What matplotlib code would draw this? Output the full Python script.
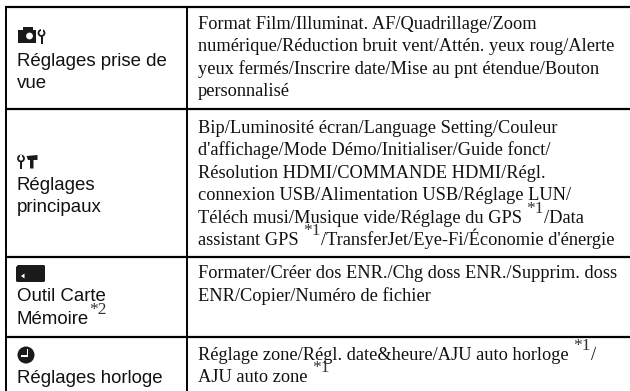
import matplotlib
matplotlib.use("Agg")
import matplotlib.pyplot as plt
from matplotlib.patches import Rectangle, Circle, Polygon, FancyBboxPatch

W, H = 630, 391
SANS = "Liberation Sans"
SERIF = "Liberation Serif"

row_lines = [7, 108.5, 257, 337]
col_lines = [6, 187]

# text rows: (segments, baseline y); a segment starting with ^ is a superscript
left_rows = [
    (["Réglages prise de"], 66),
    (["vue"], 88),
    (["Réglages"], 190),
    (["principaux"], 212),
    (["Outil Carte"], 301),
    (["Mémoire", "^*2"], 324),
    (["Réglages horloge"], 383),
]
right_rows = [
    (["Format Film/Illuminat. AF/Quadrillage/Zoom"], 29),
    (["numérique/Réduction bruit vent/Attén. yeux roug/Alerte"], 51),
    (["yeux fermés/Inscrire date/Mise au pnt étendue/Bouton"], 74),
    (["personnalisé"], 96),
    (["Bip/Luminosité écran/Language Setting/Couleur"], 133),
    (["d'affichage/Mode Démo/Initialiser/Guide fonct/"], 155),
    (["Résolution HDMI/COMMANDE HDMI/Régl."], 178),
    (["connexion USB/Alimentation USB/Réglage LUN/"], 200),
    (["Téléch musi/Musique vide/Réglage du GPS ", "^*1", "/Data"], 223),
    (["assistant GPS ", "^*1", "/TransferJet/Eye-Fi/Économie d'énergie"], 245),
    (["Formater/Créer dos ENR./Chg doss ENR./Supprim. doss"], 278),
    (["ENR/Copier/Numéro de fichier"], 301),
    (["Réglage zone/Régl. date&heure/AJU auto horloge ", "^*1", "/"], 360),
    (["AJU auto zone ", "^*1"], 382),
]

fig = plt.figure(figsize=(W / 100, H / 100), dpi=100)
ax = fig.add_axes([0, 0, 1, 1])
ax.set_xlim(0, W)
ax.set_ylim(H, 0)
ax.axis("off")

for y in row_lines:
    ax.plot([5, W], [y, y], color="black", lw=1.6, solid_capstyle="butt")
ax.plot([col_lines[0]] * 2, [6, H], color="black", lw=1.4, solid_capstyle="butt")
ax.plot([col_lines[1]] * 2, [6, H], color="black", lw=1.4, solid_capstyle="butt")

renderer = fig.canvas.get_renderer()


def draw_rows(rows, x0, family, size, raise_px):
    for segments, y in rows:
        x = x0
        for seg in segments:
            sup = seg.startswith("^")
            t = ax.text(x, y - raise_px if sup else y, seg[1:] if sup else seg,
                        family=SERIF if sup else family,
                        fontsize=size if not sup else 12.5,
                        color="#111111" if not sup else "#333333",
                        ha="left", va="baseline")
            x += t.get_window_extent(renderer).width


draw_rows(left_rows, 17, SANS, 13.4, 9.5)
draw_rows(right_rows, 198, SERIF, 13.2, 10)

k = "#1a1a1a"
# camera + wrench icon
ax.add_patch(Rectangle((17.5, 30), 18, 13, color=k, lw=0))
ax.add_patch(Rectangle((23, 27), 9.5, 3.5, color=k, lw=0))
ax.add_patch(Circle((29.5, 36), 3.4, color="white", lw=0))
ax.add_patch(Circle((41.5, 33), 3, fill=False, ec=k, lw=1.3))
ax.add_patch(Rectangle((40.6, 35.5), 1.9, 8, color=k, lw=0))
ax.add_patch(Rectangle((40.5, 29), 2, 2.5, color="white", lw=0))
# wrench + hammer icon
ax.add_patch(Circle((21, 158.5), 3, fill=False, ec=k, lw=1.3))
ax.add_patch(Rectangle((20.1, 161), 1.9, 7.5, color=k, lw=0))
ax.add_patch(Rectangle((20, 154.5), 2, 2.5, color="white", lw=0))
ax.add_patch(Polygon([(26.5, 156), (37.5, 155), (37.5, 160), (33.5, 160), (33.5, 168.5),
                      (30, 168.5), (30, 160), (28, 160)], color=k, lw=0))
# memory card icon
ax.add_patch(FancyBboxPatch((16, 265), 29, 17, boxstyle="round,pad=0,rounding_size=1.5", color=k, lw=0))
ax.add_patch(Polygon([(15, 264), (19, 264), (15, 268)], color="white", lw=0))
ax.add_patch(Polygon([(21, 276), (24.5, 273.5), (24.5, 278.5)], color="white", lw=0))
# clock icon
ax.add_patch(Circle((26, 355), 8.5, color=k, lw=0))
ax.add_patch(Rectangle((26.5, 349), 1.8, 7.5, color="white", lw=0))
ax.add_patch(Rectangle((21, 355), 6, 1.8, color="white", lw=0))

fig.savefig("out.png", dpi=100)
